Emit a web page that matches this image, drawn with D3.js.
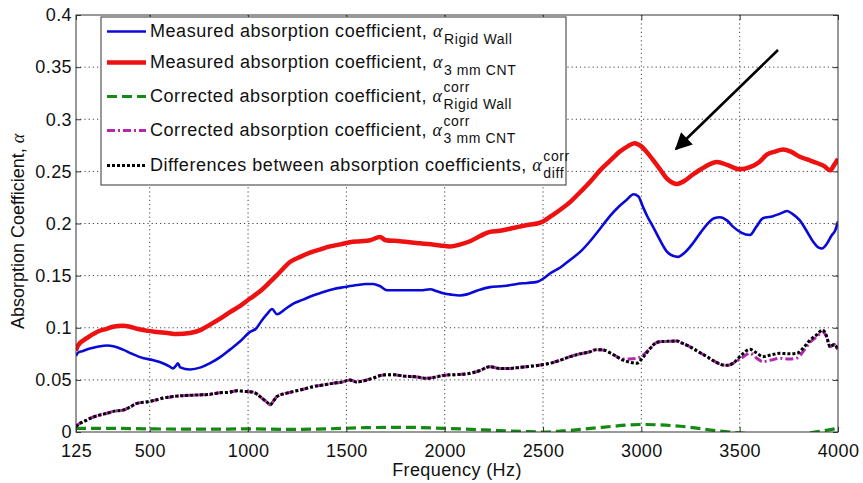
<!DOCTYPE html>
<html>
<head>
<meta charset="utf-8">
<script src="https://cdn.jsdelivr.net/npm/d3@7"></script>
<style>
  html, body { margin: 0; padding: 0; background: #fff; }
  svg { display: block; font-family: "Liberation Sans", Arial, sans-serif; }
</style>
</head>
<body>
<svg id="chart" width="863" height="483"></svg>
<script>
// ---------------- DATA ----------------
const xTicks = [125, 500, 1000, 1500, 2000, 2500, 3000, 3500, 4000];
const yTicks = [0, 0.05, 0.1, 0.15, 0.2, 0.25, 0.3, 0.35, 0.4];
const yTickLabels = ["0", "0.05", "0.1", "0.15", "0.2", "0.25", "0.3", "0.35", "0.4"];

// Measured absorption coefficient, 3 mm CNT (red)
const freqCNT = [125,135,180,232,280,313,364,400,435,490,537,590,638,705,760,807,860,908,960,1010,1061,1112,1160,1213,1265,1315,1365,1417,1470,1518,1570,1620,1671,1700,1773,1820,1874,1930,1976,2027,2080,2129,2180,2230,2280,2332,2380,2434,2470,2500,2540,2586,2640,2688,2740,2790,2840,2891,2930,2965,3000,3030,3059,3095,3130,3160,3181,3220,3262,3320,3384,3440,3500,3552,3600,3638,3680,3720,3760,3806,3850,3893,3930,3960,3980,4000];
const alphaCNT = [0.078,0.083,0.090,0.096,0.099,0.101,0.102,0.101,0.099,0.097,0.096,0.095,0.094,0.095,0.098,0.103,0.109,0.115,0.121,0.128,0.135,0.144,0.153,0.163,0.168,0.172,0.175,0.178,0.180,0.182,0.183,0.184,0.187,0.184,0.183,0.182,0.181,0.180,0.179,0.178,0.180,0.183,0.188,0.192,0.193,0.195,0.197,0.199,0.200,0.202,0.207,0.213,0.221,0.230,0.240,0.251,0.260,0.269,0.274,0.277,0.274,0.268,0.261,0.252,0.243,0.239,0.238,0.241,0.247,0.254,0.259,0.256,0.252,0.254,0.259,0.266,0.269,0.271,0.269,0.264,0.261,0.258,0.255,0.251,0.256,0.262];

// Measured absorption coefficient, rigid wall (blue)
const freqRigid = [125,135,165,196,240,283,320,364,410,465,515,567,600,618,635,643,655,705,760,807,860,908,960,1010,1040,1070,1096,1122,1147,1190,1228,1280,1330,1380,1432,1490,1554,1600,1636,1670,1707,1760,1824,1880,1926,1960,1992,2027,2077,2113,2170,2230,2300,2367,2420,2469,2500,2535,2590,2637,2690,2739,2790,2840,2890,2927,2960,2985,3008,3030,3059,3095,3130,3160,3186,3220,3262,3300,3333,3370,3400,3435,3466,3510,3552,3585,3618,3669,3700,3741,3770,3806,3840,3872,3900,3918,3945,3969,3985,4000];
const alphaRigid = [0.073,0.076,0.078,0.080,0.082,0.083,0.082,0.079,0.075,0.071,0.069,0.066,0.063,0.061,0.064,0.066,0.062,0.060,0.062,0.066,0.072,0.079,0.087,0.096,0.099,0.107,0.113,0.118,0.113,0.118,0.123,0.127,0.131,0.134,0.137,0.139,0.141,0.142,0.142,0.140,0.136,0.136,0.136,0.136,0.137,0.135,0.133,0.132,0.131,0.132,0.136,0.139,0.140,0.142,0.143,0.144,0.147,0.152,0.158,0.165,0.173,0.183,0.195,0.207,0.217,0.223,0.228,0.226,0.216,0.207,0.197,0.184,0.173,0.169,0.168,0.172,0.181,0.191,0.199,0.205,0.206,0.203,0.197,0.191,0.189,0.197,0.205,0.207,0.209,0.212,0.209,0.203,0.193,0.183,0.177,0.176,0.181,0.189,0.193,0.202];

// Corrected coefficient (3 mm CNT, magenta) and difference (black) share frequencies
const freqCorr = [125,135,165,196,240,283,320,364,400,435,490,537,580,618,680,740,800,857,900,944,980,1010,1040,1061,1080,1100,1112,1130,1147,1190,1228,1280,1330,1380,1432,1480,1518,1550,1585,1640,1687,1740,1788,1850,1910,1960,2012,2060,2129,2180,2230,2280,2332,2380,2434,2480,2535,2590,2637,2690,2739,2770,2805,2850,2907,2940,2978,3010,3044,3070,3094,3140,3181,3210,3247,3290,3333,3370,3415,3440,3466,3510,3552,3585,3618,3660,3705,3750,3791,3830,3857,3890,3923,3940,3960,3980,4000];
const alphaDiff = [0.005,0.007,0.010,0.013,0.016,0.018,0.020,0.021,0.024,0.0275,0.029,0.031,0.033,0.034,0.035,0.0355,0.036,0.0377,0.038,0.0396,0.039,0.0387,0.037,0.034,0.031,0.028,0.026,0.030,0.034,0.037,0.0387,0.041,0.0435,0.045,0.0467,0.048,0.0499,0.048,0.049,0.052,0.0547,0.055,0.0537,0.053,0.0515,0.053,0.0547,0.055,0.0563,0.059,0.0627,0.061,0.061,0.062,0.063,0.064,0.0659,0.069,0.0723,0.075,0.077,0.079,0.0787,0.075,0.069,0.067,0.066,0.072,0.080,0.085,0.0866,0.087,0.0873,0.085,0.0818,0.077,0.0723,0.068,0.0643,0.064,0.0659,0.074,0.0793,0.076,0.0723,0.074,0.0755,0.075,0.0755,0.082,0.088,0.093,0.0978,0.093,0.0818,0.084,0.0787];
const alphaCorrCNT = [0.005,0.007,0.010,0.013,0.016,0.018,0.020,0.021,0.024,0.0275,0.029,0.031,0.033,0.034,0.035,0.0355,0.036,0.0377,0.038,0.0396,0.039,0.0387,0.037,0.034,0.031,0.028,0.026,0.030,0.034,0.037,0.0387,0.041,0.0435,0.045,0.0467,0.048,0.0499,0.048,0.049,0.052,0.0547,0.055,0.0537,0.053,0.0515,0.053,0.0547,0.055,0.0563,0.059,0.0627,0.061,0.061,0.062,0.063,0.064,0.0659,0.069,0.0723,0.075,0.077,0.079,0.0787,0.075,0.070,0.070,0.0707,0.074,0.080,0.085,0.0866,0.087,0.0873,0.085,0.0818,0.077,0.0723,0.068,0.0643,0.064,0.0659,0.071,0.0755,0.071,0.0675,0.069,0.0707,0.070,0.071,0.079,0.086,0.091,0.096,0.092,0.0818,0.084,0.0787];

// Corrected coefficient, rigid wall (green)
const freqCorrRigid = [125,300,500,800,1000,1200,1400,1600,1800,2000,2200,2400,2500,2600,2800,3000,3200,3400,3600,3750,3850,4000];
const alphaCorrRigid = [0.0035,0.0035,0.003,0.0027,0.003,0.0025,0.003,0.0042,0.0045,0.0035,0.002,0.0005,0.0,0.001,0.0045,0.0072,0.0055,0.0008,-0.002,-0.003,-0.001,0.0035];

const legendMain = ["Measured absorption coefficient, ", "Measured absorption coefficient, ", "Corrected absorption coefficient, ", "Corrected absorption coefficient, ", "Differences between absorption coefficients, "];
const legendSup = ["", "", "corr", "corr", "corr"];
const legendSub = ["Rigid Wall", "3 mm CNT", "Rigid Wall", "3 mm CNT", "diff"];

// ---------------- DRAW ----------------
const svg = d3.select("#chart");
const X0 = 76, X1 = 838, Y0 = 432, Y1 = 15;
const x = d3.scaleLinear().domain([125, 4000]).range([X0, X1]);
const y = d3.scaleLinear().domain([0, 0.4]).range([Y0, Y1]);

const FONT = 18;

// grid
const grid = svg.append("g");
grid.selectAll("line.gx").data(xTicks.slice(1, -1)).enter().append("line")
  .attr("x1", d => x(d)).attr("x2", d => x(d)).attr("y1", Y0).attr("y2", Y1)
  .attr("stroke", "#444").attr("stroke-width", 1).attr("stroke-dasharray", "1.2,3");
grid.selectAll("line.gy").data(yTicks.slice(1, -1)).enter().append("line")
  .attr("y1", d => y(d)).attr("y2", d => y(d)).attr("x1", X0).attr("x2", X1)
  .attr("stroke", "#444").attr("stroke-width", 1).attr("stroke-dasharray", "1.2,3");

// clip
svg.append("clipPath").attr("id", "clip").append("rect")
  .attr("x", X0).attr("y", Y1).attr("width", X1 - X0).attr("height", Y0 - Y1);

const plot = svg.append("g").attr("clip-path", "url(#clip)");
const line = d3.line().x(d => x(d[0])).y(d => y(d[1])).curve(d3.curveMonotoneX);
const zip = (a, b) => a.map((v, i) => [v, b[i]]);

const series = [
  { f: freqCorrRigid, v: alphaCorrRigid, color: "#138a13", w: 3.2, dash: "10,5" },
  { f: freqRigid, v: alphaRigid, color: "#0a0ad8", w: 2.6, dash: null },
  { f: freqCNT, v: alphaCNT, color: "#ee1111", w: 4.5, dash: null },
  { f: freqCorr, v: alphaCorrCNT, color: "#b02ab0", w: 3, dash: "8,3,2,3" },
  { f: freqCorr, v: alphaDiff, color: "#000000", w: 3, dash: "3,2" }
];
series.forEach(s => {
  plot.append("path").datum(zip(s.f, s.v)).attr("d", line)
    .attr("fill", "none").attr("stroke", s.color).attr("stroke-width", s.w)
    .attr("stroke-dasharray", s.dash).attr("stroke-linejoin", "round");
});

// axes
const axB = svg.append("g").attr("transform", `translate(0,${Y0})`)
  .call(d3.axisBottom(x).tickValues(xTicks).tickFormat(d3.format("d")).tickSizeInner(-5).tickSizeOuter(0).tickPadding(12));
const axL = svg.append("g").attr("transform", `translate(${X0},0)`)
  .call(d3.axisLeft(y).tickValues(yTicks).tickFormat((d, i) => yTickLabels[i]).tickSizeInner(-5).tickSizeOuter(0).tickPadding(4));
const axT = svg.append("g").attr("transform", `translate(0,${Y1})`)
  .call(d3.axisTop(x).tickValues(xTicks).tickFormat("").tickSizeInner(-5).tickSizeOuter(0));
const axR = svg.append("g").attr("transform", `translate(${X1},0)`)
  .call(d3.axisRight(y).tickValues(yTicks).tickFormat("").tickSizeInner(-5).tickSizeOuter(0));
[axB, axL, axT, axR].forEach(a => {
  a.selectAll("path.domain").remove();
  a.selectAll("line").attr("stroke", "#333");
  a.selectAll("text").attr("font-size", FONT).attr("fill", "#111").attr("letter-spacing", 0.4)
    .attr("font-family", "'Liberation Sans', Arial, sans-serif");
});
svg.append("rect").attr("x", X0).attr("y", Y1).attr("width", X1 - X0).attr("height", Y0 - Y1)
  .attr("fill", "none").attr("stroke", "#333").attr("stroke-width", 1);

// axis labels
svg.append("text").attr("x", (X0 + X1) / 2).attr("y", 476).attr("text-anchor", "middle")
  .attr("font-size", FONT).attr("letter-spacing", 0.4).attr("fill", "#111").text("Frequency (Hz)");
const yl = svg.append("text").attr("transform", `translate(24,${(Y0 + Y1) / 2 + 8}) rotate(-90)`)
  .attr("text-anchor", "middle").attr("font-size", FONT).attr("fill", "#111");
yl.append("tspan").text("Absorption Coefficient, ");
yl.append("tspan").attr("font-family", "'Liberation Serif', serif").attr("font-style", "italic").text("α");

// legend
const lg = svg.append("g");
lg.append("rect").attr("x", 101).attr("y", 17).attr("width", 465).attr("height", 168)
  .attr("fill", "#fff").attr("stroke", "#333").attr("stroke-width", 1);
const legendBase = [37, 68, 102, 136, 171];
const legendOrder = [1, 2, 0, 3, 4]; // series index for each legend row
legendMain.forEach((txt, i) => {
  const s = series[legendOrder[i]];
  const yb = legendBase[i];
  const ly = yb - 5.5;
  lg.append("line").attr("x1", 107).attr("x2", 146).attr("y1", ly).attr("y2", ly)
    .attr("stroke", s.color).attr("stroke-width", s.w).attr("stroke-dasharray", s.dash);
  const t = lg.append("text").attr("x", 150).attr("y", yb).attr("font-size", FONT)
    .attr("letter-spacing", 0.55).attr("fill", "#111");
  t.append("tspan").text(txt);
  t.append("tspan").attr("font-family", "'Liberation Serif', serif").attr("font-style", "italic").text("α");
  const endX = 150 + t.node().getComputedTextLength() + 1;
  if (legendSup[i]) {
    lg.append("text").attr("x", endX).attr("y", yb - 10).attr("font-size", 14).attr("letter-spacing", 0.6)
      .attr("fill", "#111").text(legendSup[i]);
  }
  lg.append("text").attr("x", endX).attr("y", yb + 7).attr("font-size", 14).attr("letter-spacing", 0.6)
    .attr("fill", "#111").text(legendSub[i]);
});

// arrow annotation
svg.append("defs").append("marker").attr("id", "arrowhead")
  .attr("viewBox", "0 0 10 10").attr("refX", 9).attr("refY", 5)
  .attr("markerWidth", 7.5).attr("markerHeight", 6.5).attr("markerUnits", "strokeWidth").attr("orient", "auto")
  .append("path").attr("d", "M0,0 L10,5 L0,10 z").attr("fill", "#000");
svg.append("line").attr("x1", 778).attr("y1", 50).attr("x2", 676).attr("y2", 149)
  .attr("stroke", "#000").attr("stroke-width", 2.6).attr("marker-end", "url(#arrowhead)");
</script>
</body>
</html>
